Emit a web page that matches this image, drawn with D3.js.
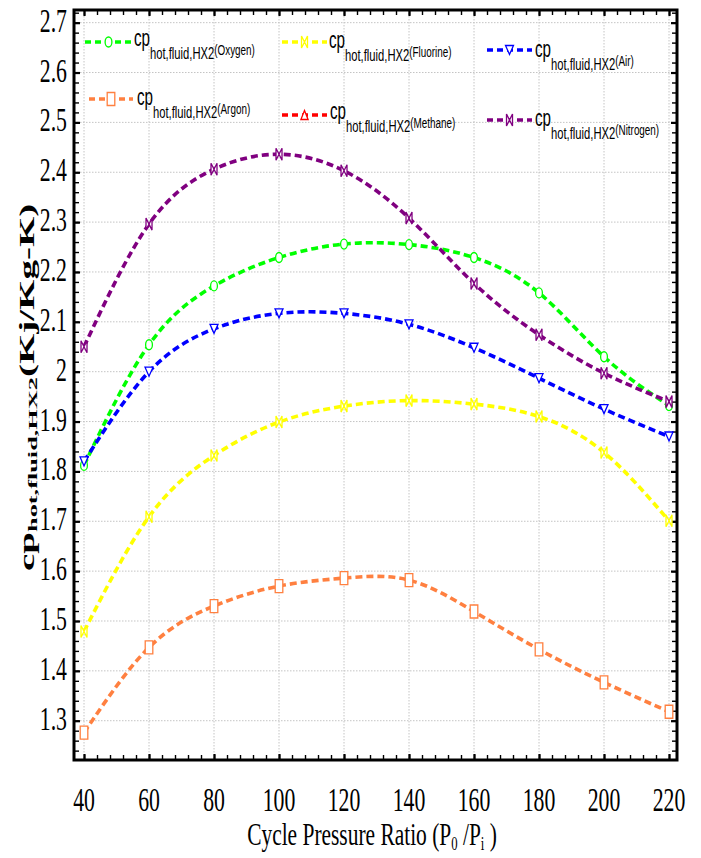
<!DOCTYPE html>
<html>
<head>
<meta charset="utf-8">
<script src="https://cdn.jsdelivr.net/npm/d3@7"></script>
<style>
  body { margin: 0; background: #fff; }
  svg { display: block; }
</style>
</head>
<body>
<svg id="chart" width="701" height="858"></svg>
<script>
// Specific heat of the hot fluid in HX2 against cycle pressure ratio
const pressureRatios = [40, 60, 80, 100, 120, 140, 160, 180, 200, 220];
const oxygen   = [1.812, 2.054, 2.172, 2.229, 2.256, 2.255, 2.229, 2.158, 2.030, 1.932];
const fluorine = [1.479, 1.709, 1.832, 1.899, 1.931, 1.942, 1.935, 1.910, 1.838, 1.701];
const air      = [1.820, 2.000, 2.086, 2.117, 2.117, 2.095, 2.048, 1.987, 1.925, 1.870];
const argon    = [1.276, 1.447, 1.530, 1.570, 1.586, 1.582, 1.519, 1.443, 1.377, 1.318];
const methane  = []; // listed in the legend only
const nitrogen = [2.050, 2.296, 2.406, 2.436, 2.403, 2.308, 2.177, 2.074, 1.997, 1.940];

const xTickValues = [40, 60, 80, 100, 120, 140, 160, 180, 200, 220];
const yTickValues = [1.3, 1.4, 1.5, 1.6, 1.7, 1.8, 1.9, 2.0, 2.1, 2.2, 2.3, 2.4, 2.5, 2.6, 2.7];
const yTickLabels = ["1.3", "1.4", "1.5", "1.6", "1.7", "1.8", "1.9", "2", "2.1", "2.2", "2.3", "2.4", "2.5", "2.6", "2.7"];

const seriesNames = ["Oxygen", "Fluorine", "Air", "Argon", "Methane", "Nitrogen"];
const seriesValues = [oxygen, fluorine, air, argon, methane, nitrogen];
const seriesColors = ["#00ff00", "#ffff00", "#0000ff", "#ff8040", "#ff0000", "#800080"];
const seriesMarkers = ["circle", "bowtie", "triDown", "rect", "triUp", "bowtie"];

// legend placement: dashed sample line (x1, x2, y) and label origin (tx, ty)
const legendLayout = [
  { x1: 85,  x2: 132, y: 42,  tx: 134, ty: 45.5 },
  { x1: 282, x2: 327, y: 42,  tx: 329, ty: 48 },
  { x1: 487, x2: 532, y: 50,  tx: 535, ty: 57 },
  { x1: 89,  x2: 133, y: 99,  tx: 137, ty: 105 },
  { x1: 282, x2: 327, y: 115, tx: 330, ty: 119 },
  { x1: 487, x2: 532, y: 120, tx: 535, ty: 126 }
];

const frame = { left: 74, right: 677, top: 10, bottom: 760 };

const svg = d3.select("#chart");

const x = d3.scaleLinear().domain([36.92, 222.46]).range([frame.left, frame.right]);
const y = d3.scaleLinear().domain([1.2212, 2.7254]).range([frame.bottom, frame.top]);

// dotted grid
const grid = svg.append("g").attr("stroke", "#c4c4c4").attr("stroke-width", 1)
  .attr("stroke-dasharray", "1.5,1.5");
grid.selectAll("line.v").data(xTickValues).join("line")
  .attr("x1", d => x(d)).attr("x2", d => x(d))
  .attr("y1", frame.top).attr("y2", frame.bottom);
grid.selectAll("line.h").data(yTickValues).join("line")
  .attr("x1", frame.left).attr("x2", frame.right)
  .attr("y1", d => y(d)).attr("y2", d => y(d));

// inward ticks on all four sides
const xMinor = d3.range(40, 222, 4);
const yMinor = d3.range(124, 273, 2).map(v => v / 100);
const innerW = frame.right - frame.left, innerH = frame.bottom - frame.top;

function styleAxis(g, width) {
  g.select(".domain").remove();
  g.selectAll("line").attr("stroke", "#000").attr("stroke-width", width);
  g.selectAll("text").remove();
}
[[d3.axisBottom(x).tickValues(xMinor).tickSize(-5), `translate(0,${frame.bottom})`, 1.4],
 [d3.axisBottom(x).tickValues(xTickValues).tickSize(-6), `translate(0,${frame.bottom})`, 2.2],
 [d3.axisTop(x).tickValues(xMinor).tickSize(-5), `translate(0,${frame.top})`, 1.4],
 [d3.axisTop(x).tickValues(xTickValues).tickSize(-6), `translate(0,${frame.top})`, 2.2],
 [d3.axisLeft(y).tickValues(yMinor).tickSize(-5), `translate(${frame.left},0)`, 1.4],
 [d3.axisLeft(y).tickValues(yTickValues).tickSize(-6), `translate(${frame.left},0)`, 2.2],
 [d3.axisRight(y).tickValues(yMinor).tickSize(-5), `translate(${frame.right},0)`, 1.4],
 [d3.axisRight(y).tickValues(yTickValues).tickSize(-6), `translate(${frame.right},0)`, 2.2]
].forEach(([axis, tr, w]) => {
  svg.append("g").attr("transform", tr).call(axis).call(g => styleAxis(g, w));
});

// frame
svg.append("rect")
  .attr("x", frame.left).attr("y", frame.top)
  .attr("width", innerW).attr("height", innerH)
  .attr("fill", "none").attr("stroke", "#000").attr("stroke-width", 3);

// tick labels (condensed serif)
svg.append("g").selectAll("text").data(xTickValues).join("text")
  .attr("transform", d => `translate(${x(d)},811) scale(0.66,1)`)
  .attr("text-anchor", "middle")
  .attr("font-family", "Liberation Serif, Times New Roman, serif")
  .attr("font-size", 33).attr("fill", "#000")
  .text(d => d);
svg.append("g").selectAll("text").data(yTickValues).join("text")
  .attr("transform", d => `translate(67,${y(d) + 9}) scale(0.66,1)`)
  .attr("text-anchor", "end")
  .attr("font-family", "Liberation Serif, Times New Roman, serif")
  .attr("font-size", 33).attr("fill", "#000")
  .text((d, i) => yTickLabels[i]);

// axis titles
const xt = svg.append("text")
  .attr("transform", "translate(372,845) scale(0.67,1)")
  .attr("text-anchor", "middle")
  .attr("font-family", "Liberation Serif, Times New Roman, serif")
  .attr("font-size", 32).attr("fill", "#000");
xt.append("tspan").text("Cycle Pressure Ratio (P");
xt.append("tspan").attr("font-size", 19).attr("dy", 5).text("0");
xt.append("tspan").attr("dy", -5).text(" /P");
xt.append("tspan").attr("font-size", 19).attr("dy", 5).text("i");
xt.append("tspan").attr("dy", -5).text(" )");

const yt = svg.append("text")
  .attr("transform", "translate(34,571) rotate(-90) scale(1.95,1)")
  .attr("font-family", "Liberation Serif, Times New Roman, serif")
  .attr("font-weight", "bold").attr("font-size", 20).attr("fill", "#000");
yt.append("tspan").text("cp");
yt.append("tspan").attr("font-size", 13.5).attr("dy", 3).text("hot,fluid,HX2");
yt.append("tspan").attr("dy", -3).text("(Kj/Kg-K)");

// markers
function markerPath(type) {
  switch (type) {
    case "bowtie":  return "M-3,-6L3,6L3,-6L-3,6Z";
    case "triDown": return "M-4,-4.5L4,-4.5L0,4.5Z";
    case "triUp":   return "M-3.6,4.5L3.6,4.5L0,-4.5Z";
    case "rect":    return "M-3.8,-6.5h7.6v13h-7.6Z";
    default: return null;
  }
}
function addMarker(g, type, color, cx, cy) {
  if (type === "circle") {
    g.append("ellipse").attr("cx", cx).attr("cy", cy).attr("rx", 3.4).attr("ry", 5)
      .attr("fill", "#fff").attr("stroke", color).attr("stroke-width", 1.3);
  } else {
    g.append("path").attr("d", markerPath(type))
      .attr("transform", `translate(${cx},${cy})`)
      .attr("fill", "#fff").attr("stroke", color).attr("stroke-width", 1.3)
      .attr("stroke-linejoin", "miter");
  }
}

const line = d3.line().curve(d3.curveNatural)
  .x((d, i) => x(pressureRatios[i])).y(d => y(d));

const plot = svg.append("g");
seriesValues.forEach((vals, s) => {
  const g = plot.append("g");
  if (vals.length) {
    g.append("path").attr("d", line(vals))
      .attr("fill", "none").attr("stroke", seriesColors[s])
      .attr("stroke-width", 3.6).attr("stroke-dasharray", "7,4");
    vals.forEach((v, i) => addMarker(g, seriesMarkers[s], seriesColors[s], x(pressureRatios[i]), y(v)));
  }
});

// legend
seriesNames.forEach((name, s) => {
  const L = legendLayout[s];
  const g = svg.append("g");
  g.append("line").attr("x1", L.x1).attr("x2", L.x2).attr("y1", L.y).attr("y2", L.y)
    .attr("stroke", seriesColors[s]).attr("stroke-width", 3.6).attr("stroke-dasharray", "6,4");
  addMarker(g, seriesMarkers[s], seriesColors[s], (L.x1 + L.x2) / 2, L.y);
  const t = g.append("text")
    .attr("transform", `translate(${L.tx},${L.ty}) scale(0.66,1)`)
    .attr("font-family", "Liberation Sans, Arial, sans-serif")
    .attr("font-size", 23).attr("fill", "#000");
  t.append("tspan").text("cp");
  t.append("tspan").attr("font-size", 17).attr("dy", 13).text("hot,fluid,HX2");
  t.append("tspan").attr("font-size", 15).attr("dy", -4).text(`(${name})`);
});
</script>
</body>
</html>
